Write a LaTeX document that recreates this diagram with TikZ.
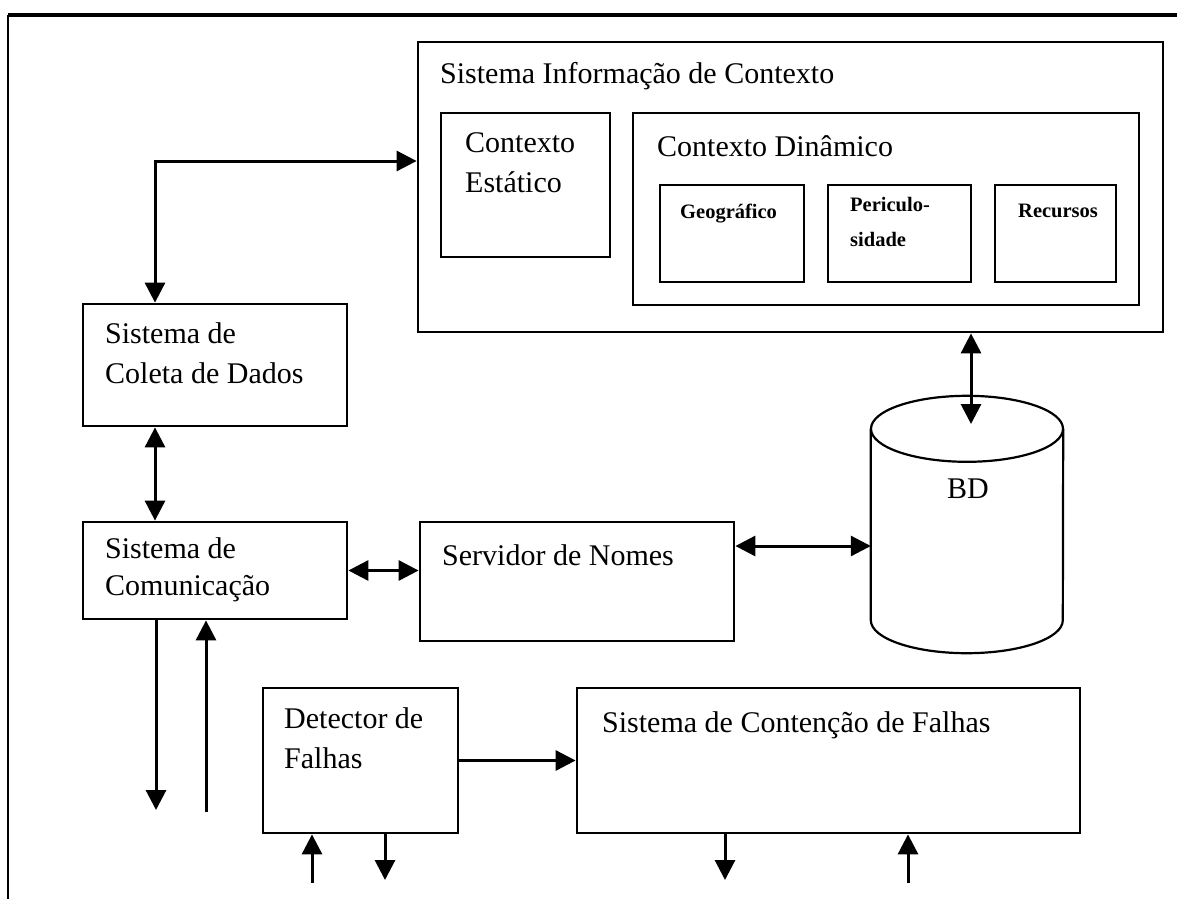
\documentclass[tikz,border=0pt]{standalone}
\usepackage{fontspec}
\setmainfont{Liberation Serif}
\usetikzlibrary{arrows.meta}

\tikzset{
  box/.style={draw, line width=2.8pt, inner sep=0pt},
  txt/.style={font=\fontsize{30}{36}\selectfont, inner sep=0pt, anchor=base west},
  smalltxt/.style={font=\bfseries\fontsize{20.5}{24}\selectfont, inner sep=0pt, anchor=base west},
  arr/.style={line width=3pt, -{Triangle[length=20pt,width=20pt]}},
  dbl/.style={line width=3pt, {Triangle[length=20pt,width=20pt]}-{Triangle[length=20pt,width=20pt]}},
}

\begin{document}
\begin{tikzpicture}[x=1pt, y=-1pt]
\useasboundingbox (0,0) rectangle (1177,899);

% frame
\draw[line width=3.6pt] (1177,15) -- (8,15);
\draw[line width=2.8pt] (8,15) -- (8,899);

% context information system
\node[box, minimum width=745pt, minimum height=290pt] (sic) at (790.5,187) {};
\node[txt] (sicT) at (440,83) {Sistema Informação de Contexto};
\node[box, minimum width=169pt, minimum height=144pt] (ce) at (525.5,185) {};
\node[txt] (ceA) at (465,152) {Contexto};
\node[txt] (ceB) at (465,192) {Estático};
\node[box, minimum width=506pt, minimum height=192pt] (cd) at (886,209) {};
\node[txt] (cdT) at (657,156) {Contexto Dinâmico};
\node[box, minimum width=144pt, minimum height=97pt] (geo) at (732,233.5) {};
\node[smalltxt] (geoT) at (680,218) {Geográfico};
\node[box, minimum width=143pt, minimum height=97pt] (per) at (899.5,233.5) {};
\node[smalltxt] (perA) at (850,211) {Periculo-};
\node[smalltxt] (perB) at (850,246) {sidade};
\node[box, minimum width=121pt, minimum height=97pt] (rec) at (1055.5,233.5) {};
\node[smalltxt] (recT) at (1018,217) {Recursos};

% left column
\node[box, minimum width=264pt, minimum height=122pt] (scd) at (215,365) {};
\node[txt] (scdA) at (105,343) {Sistema de};
\node[txt] (scdB) at (105,383) {Coleta de Dados};
\node[box, minimum width=264pt, minimum height=97pt] (sc) at (215,570.5) {};
\node[txt] (scA) at (105,558) {Sistema de};
\node[txt] (scB) at (105,595) {Comunicação};

% name server
\node[box, minimum width=314pt, minimum height=119pt] (sn) at (577,581.5) {};
\node[txt] (snT) at (442,565) {Servidor de Nomes};

% database
\node[minimum width=192pt, minimum height=257pt, inner sep=0pt] (bd) at (967,524.5) {};
\draw[line width=2.2pt] ([yshift=-33pt]bd.north west) -- ([yshift=33pt]bd.south west)
  arc[start angle=180, end angle=360, x radius=96pt, y radius=33pt]
  -- ([yshift=-33pt]bd.north east);
\draw[line width=2.2pt] ([yshift=-33pt]bd.north) ellipse[x radius=96pt, y radius=33pt];
\node[txt] (bdT) at (947,498) {BD};

% fault boxes
\node[box, minimum width=195pt, minimum height=145pt] (df) at (360.5,760.5) {};
\node[txt] (dfA) at (284,728) {Detector de};
\node[txt] (dfB) at (284,768) {Falhas};
\node[box, minimum width=503pt, minimum height=145pt] (scf) at (828.5,760.5) {};
\node[txt] (scfT) at (602,732) {Sistema de Contenção de Falhas};

% connectors
\coordinate (k1) at (155,161);
\coordinate (bdin) at (971,424);
\draw[dbl] (scd.north -| k1) |- (k1 -| sic.west);
\draw[dbl] (scd.south -| k1) -- (sc.north -| k1);
\draw[dbl] (sc.east) -- (sc.east -| sn.west);
\draw[dbl] ([yshift=35.5pt]sn.east) -- ([yshift=35.5pt]sn.east -| bd.west);
\draw[dbl] (sic.south -| bdin) -- (bdin);
\draw[arr] (df.east) -- (df.east -| scf.west);

% open ends
\coordinate (o1) at (156,810);
\coordinate (i1) at (206,812);
\coordinate (i2) at (312,883);
\coordinate (o2) at (385,880);
\coordinate (o3) at (725,880);
\coordinate (i3) at (908,883);
\draw[arr] (sc.south -| o1) -- (o1);
\draw[arr] (i1) -- (i1 |- sc.south);
\draw[arr] (i2) -- (i2 |- df.south);
\draw[arr] (df.south -| o2) -- (o2);
\draw[arr] (scf.south -| o3) -- (o3);
\draw[arr] (i3) -- (i3 |- scf.south);
\end{tikzpicture}
\end{document}
